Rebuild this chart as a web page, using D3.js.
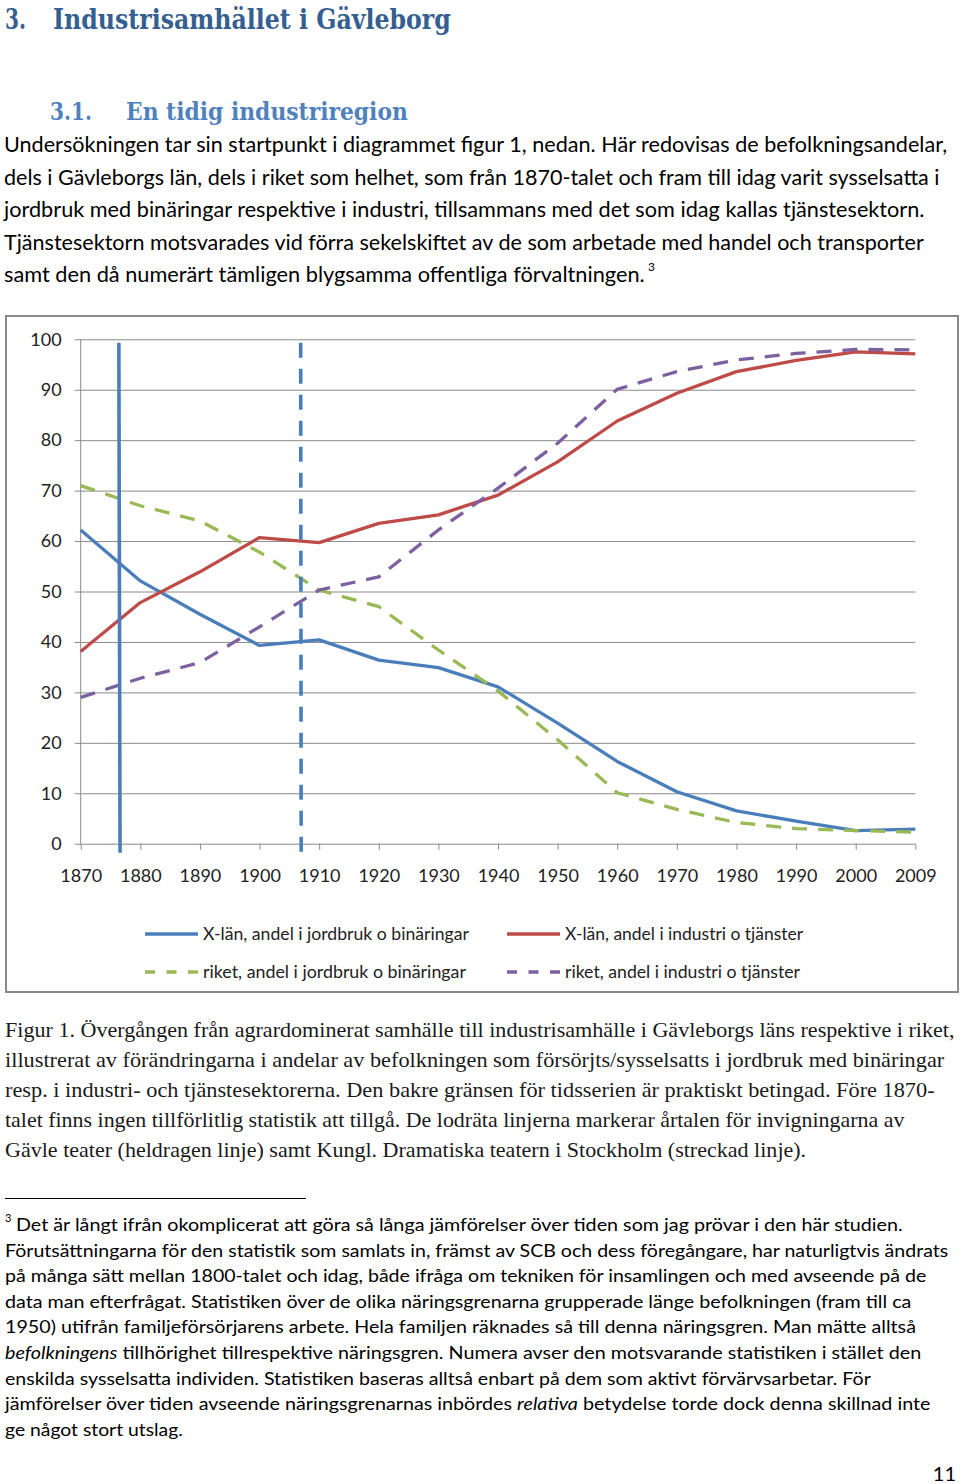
<!DOCTYPE html>
<html><head><meta charset="utf-8">
<script src="https://cdn.jsdelivr.net/npm/d3@7"></script>
<style>html,body{margin:0;padding:0;background:#fff;}svg{display:block;}</style>
</head><body>
<script>
// ---------- DATA ----------
const years = ["1870","1880","1890","1900","1910","1920","1930","1940","1950","1960","1970","1980","1990","2000","2009"];
const xlanJordbruk  = [62.2,52.1,45.5,39.3,40.4,36.4,34.9,31.1,23.9,16.3,10.3,6.5,4.5,2.6,2.9];
const xlanIndustri  = [38.1,47.8,53.9,60.7,59.7,63.5,65.2,69.1,75.7,83.8,89.3,93.6,95.8,97.5,97.1];
const riketJordbruk = [71.0,67.0,64.0,57.8,50.3,47.0,38.4,30.3,20.6,10.1,6.8,4.2,3.0,2.6,2.3];
const riketIndustri = [29.0,32.8,35.9,43.0,50.3,52.9,62.2,70.5,79.4,90.1,93.6,95.9,97.2,98.0,97.9];
const yTicks = [0,10,20,30,40,50,60,70,80,90,100];
const markerYears = [1876.4, 1906.9]; // Gävle teater (solid), Dramaten (dashed)
const seriesNames = ["X-län, andel i jordbruk o binäringar","X-län, andel i industri o tjänster",
                     "riket, andel i jordbruk o binäringar","riket, andel i industri o tjänster"];

const heading1 = ["3.", "Industrisamhället i Gävleborg"];
const heading2 = ["3.1.", "En tidig industriregion"];
const bodyLines = [
 "Undersökningen tar sin startpunkt i diagrammet figur 1, nedan. Här redovisas de befolkningsandelar,",
 "dels i Gävleborgs län, dels i riket som helhet, som från 1870-talet och fram till idag varit sysselsatta i",
 "jordbruk med binäringar respektive i industri, tillsammans med det som idag kallas tjänstesektorn.",
 "Tjänstesektorn motsvarades vid förra sekelskiftet av de som arbetade med handel och transporter",
 "samt den då numerärt tämligen blygsamma offentliga förvaltningen."
];
const captionLines = [
 "Figur 1. Övergången från agrardominerat samhälle till industrisamhälle i Gävleborgs läns respektive i riket,",
 "illustrerat av förändringarna i andelar av befolkningen som försörjts/sysselsatts i jordbruk med binäringar",
 "resp. i industri- och tjänstesektorerna. Den bakre gränsen för tidsserien är praktiskt betingad. Före 1870-",
 "talet finns ingen tillförlitlig statistik att tillgå. De lodräta linjerna markerar årtalen för invigningarna av",
 "Gävle teater (heldragen linje) samt Kungl. Dramatiska teatern i Stockholm (streckad linje)."
];
// footnote lines: arrays of [text, italic]
const footLines = [
 [["Det är långt ifrån okomplicerat att göra så långa jämförelser över tiden som jag prövar i den här studien.",false]],
 [["Förutsättningarna för den statistik som samlats in, främst av SCB och dess föregångare, har naturligtvis ändrats",false]],
 [["på många sätt mellan 1800-talet och idag, både ifråga om tekniken för insamlingen och med avseende på de",false]],
 [["data man efterfrågat. Statistiken över de olika näringsgrenarna grupperade länge befolkningen (fram till ca",false]],
 [["1950) utifrån familjeförsörjarens arbete. Hela familjen räknades så till denna näringsgren. Man mätte alltså",false]],
 [["befolkningens",true],[" tillhörighet tillrespektive näringsgren. Numera avser den motsvarande statistiken i stället den",false]],
 [["enskilda sysselsatta individen. Statistiken baseras alltså enbart på dem som aktivt förvärvsarbetar. För",false]],
 [["jämförelser över tiden avseende näringsgrenarnas inbördes ",false],["relativa",true],[" betydelse torde dock denna skillnad inte",false]],
 [["ge något stort utslag.",false]]
];
const bodyWidths = [944,936,922,921,641];
const captionWidths = [950,940,930,900,802];
const footWidths = [887,944,922,907,911,917,867,927,178];

// ---------- DRAW ----------
const W = 960, H = 1484;
const svg = d3.select("body").append("svg").attr("width", W).attr("height", H);

function fit(t, x0, w){
  const bw = t.node().getBBox().width;
  if (bw > 0) t.attr("transform", `translate(${x0},0) scale(${w/bw},1) translate(${-x0},0)`);
  return t;
}
const SANS = "Lato, 'Open Sans', sans-serif";
const SERIF = "'Liberation Serif', 'DejaVu Serif', serif";
const HEAD = "'DejaVu Serif', serif";

// Headings
fit(svg.append("text").attr("x",5).attr("y",29.5).attr("font-family",HEAD).attr("font-weight","bold")
  .attr("font-size",28).attr("fill","#365F91").text(heading1[0]), 5, 21);
fit(svg.append("text").attr("x",53).attr("y",29.5).attr("font-family",HEAD).attr("font-weight","bold")
  .attr("font-size",28).attr("fill","#365F91").text(heading1[1]), 53, 398);
fit(svg.append("text").attr("x",50).attr("y",120).attr("font-family",HEAD).attr("font-weight","bold")
  .attr("font-size",24).attr("fill","#4F81BD").text(heading2[0]), 50, 42);
fit(svg.append("text").attr("x",126).attr("y",120).attr("font-family",HEAD).attr("font-weight","bold")
  .attr("font-size",24).attr("fill","#4F81BD").text(heading2[1]), 126, 282);

// Body text
bodyLines.forEach((s,i)=>{
  const t = svg.append("text").attr("x",4).attr("y",152.5 + i*32.4)
    .attr("font-family",SANS).attr("font-size",20.5).attr("fill","#000").text(s);
  fit(t, 4, bodyWidths[i]);
});
svg.append("text").attr("x",648).attr("y",271).attr("font-family",SANS).attr("font-size",12).text("3");

// ---------- CHART ----------
svg.append("rect").attr("x",6).attr("y",316).attr("width",952).attr("height",676)
  .attr("fill","#fff").attr("stroke","#8a8a8a").attr("stroke-width",2);

const x = d3.scalePoint().domain(years).range([80.7, 915.3]);
const y = d3.scaleLinear().domain([0,100]).range([843.7, 339.3]);
const xYear = yr => x(years[0]) + (yr - 1870)/10 * x.step();

const gy = svg.append("g").attr("transform",`translate(${x(years[0])},0)`)
  .call(d3.axisLeft(y).tickValues(yTicks).tickSize(0).tickPadding(0));
gy.select(".domain").attr("stroke","#8a8a8a");
gy.selectAll(".tick line").attr("x1",-6).attr("x2", x(years[years.length-1]) - x(years[0]))
  .attr("stroke","#8a8a8a");
gy.selectAll(".tick text").attr("x",-19).attr("font-family",SANS).attr("font-size",18).attr("fill","#222");
gy.select(".domain").remove();
svg.append("line").attr("x1",x(years[0])).attr("x2",x(years[0])).attr("y1",y(100)).attr("y2",y(0))
  .attr("stroke","#8a8a8a");

const gx = svg.append("g").attr("transform",`translate(0,${y(0)})`)
  .call(d3.axisBottom(x).tickSize(6).tickPadding(20));
gx.select(".domain").remove();
gx.selectAll(".tick line").attr("stroke","#8a8a8a");
gx.selectAll(".tick text").attr("font-family",SANS).attr("font-size",18).attr("fill","#222");

const series = [
  {v:xlanJordbruk,  c:"#4A7EBB", dash:null},
  {v:xlanIndustri,  c:"#BE4B48", dash:null},
  {v:riketJordbruk, c:"#98B954", dash:"15,11"},
  {v:riketIndustri, c:"#7D60A0", dash:"15,11"}
];
const line = d3.line().x((d,i)=>x(years[i])).y(d=>y(d));
series.forEach(s=>{
  svg.append("path").datum(s.v).attr("d",line).attr("fill","none")
    .attr("stroke",s.c).attr("stroke-width",3.3).attr("stroke-linejoin","round")
    .attr("stroke-dasharray",s.dash);
});

// marker vertical lines
markerYears.forEach((yr,i)=>{
  svg.append("line").attr("x1",xYear(yr)).attr("x2",xYear(yr)+(i===0?1.2:0.5))
    .attr("y1",y(99.3)).attr("y2",y(0)+9)
    .attr("stroke","#4A7EBB").attr("stroke-width",3.6)
    .attr("stroke-dasharray", i===0 ? null : "15,11");
});

// legend
const legPos = [[145,934],[507,934],[145,972],[507,972]];
const legW = [267,239,264,236];
series.forEach((s,i)=>{
  const [lx,ly] = legPos[i];
  svg.append("line").attr("x1",lx).attr("x2",lx+53).attr("y1",ly).attr("y2",ly)
    .attr("stroke",s.c).attr("stroke-width",3.3).attr("stroke-dasharray", s.dash ? "10,11.5" : null);
  const t = svg.append("text").attr("x",lx+58).attr("y",ly).attr("dy","0.35em")
    .attr("font-family",SANS).attr("font-size",17).attr("fill","#222").text(seriesNames[i]);
  fit(t, lx+58, legW[i]);
});

// Caption
captionLines.forEach((s,i)=>{
  const t = svg.append("text").attr("x",5).attr("y",1037 + i*30)
    .attr("font-family",SERIF).attr("font-size",21).attr("fill","#1a1a1a").text(s);
  fit(t, 5, captionWidths[i]);
});

// Footnote separator and text
svg.append("line").attr("x1",5).attr("x2",306).attr("y1",1198.5).attr("y2",1198.5).attr("stroke","#000").attr("stroke-width",1);
svg.append("text").attr("x",5).attr("y",1222).attr("font-family",SANS).attr("font-size",11).text("3");
footLines.forEach((parts,i)=>{
  const x0 = i===0 ? 16 : 5;
  const t = svg.append("text").attr("x",x0).attr("y",1231 + i*25.6)
    .attr("font-family",SANS).attr("font-size",18).attr("fill","#000");
  parts.forEach(p=>{ t.append("tspan").attr("font-style", p[1] ? "italic" : "normal").text(p[0]); });
  fit(t, x0, footWidths[i]);
});

// page number
svg.append("text").attr("x",956).attr("y",1481).attr("text-anchor","end")
  .attr("font-family",SANS).attr("font-size",20).text("11");
</script>
</body></html>
